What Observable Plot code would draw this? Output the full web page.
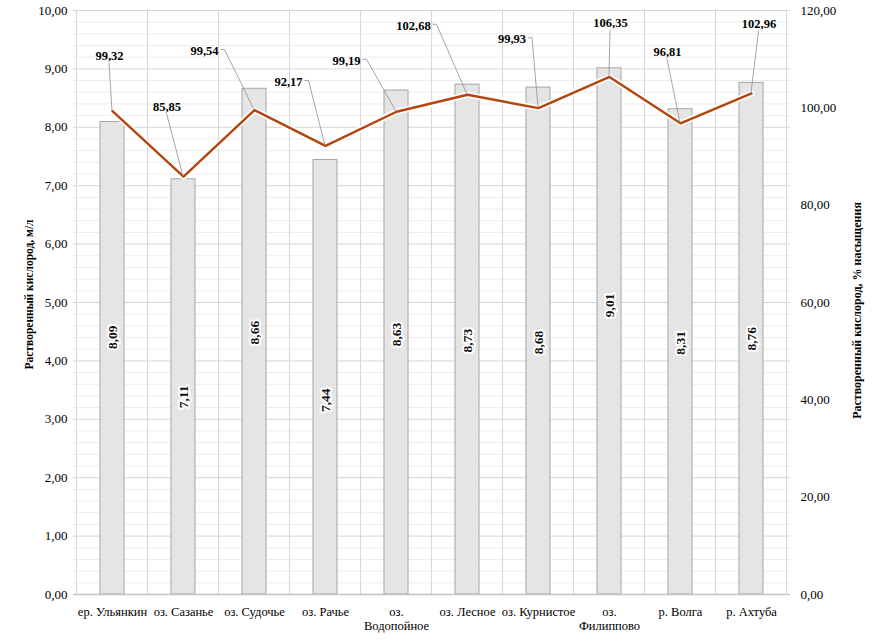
<!DOCTYPE html>
<html><head><meta charset="utf-8">
<script src="https://cdn.jsdelivr.net/npm/d3@7"></script>
<script src="https://cdn.jsdelivr.net/npm/@observablehq/plot@0.6"></script>
<style>
body{margin:0;background:#fff;}
#chart svg{display:block;}
#chart svg, #chart svg text, #chart svg tspan {font-family: "Liberation Serif", "Times New Roman", serif !important;}
</style>
</head><body><div id="chart"></div>
<script>
// ---- data ----
const categories = ["ер. Ульянкин","оз. Сазанье","оз. Судочье","оз. Рачье","оз. Водопойное","оз. Лесное","оз. Курнистое","оз. Филиппово","р. Волга","р. Ахтуба"];
const oxygenMgL = [8.09, 7.11, 8.66, 7.44, 8.63, 8.73, 8.68, 9.01, 8.31, 8.76];
const oxygenSat = [99.32, 85.85, 99.54, 92.17, 99.19, 102.68, 99.93, 106.35, 96.81, 102.96];
const leftTicks = [0,1,2,3,4,5,6,7,8,9,10];
const rightTicks = [0,20,40,60,80,100,120];
const leftTitle = "Растворенный кислород, м/л";
const rightTitle = "Растворенный кислород, % насыщения";
const wrappedCats = ["оз. Водопойное","оз. Филиппово"];

// ---- layout / style ----
const ratio = 120 / 10; // right axis max / left axis max
const fmt = v => (+v).toFixed(2).replace(".", ",");
const lineColor = "#b5450f";
// label offsets (px) of line labels relative to their points: [dx, dy, leaderSide]
const lineLabelLayout = [[-3,-55,"b"],[-16.5,-70,"b"],[-50,-59,"r"],[-37,-64,"r"],[-50,-51,"r"],[-54,-69,"r"],[-26.5,-69,"r"],[1,-54,"b"],[-13,-71,"b"],[7.5,-69,"b"]];
// vertical shift (px) of bar labels relative to bar middle
const barLabelShift = [-21, 10, -9, 23, -8, 1, 1.5, -26, -9, 0];

const rows = categories.map((c, i) => ({c, mg: oxygenMgL[i], sat: oxygenSat[i], satL: oxygenSat[i] / ratio, i}));
const minorTicks = d3.range(0, 50).map(k => k / 5).filter(v => v % 1 !== 0);

function bandCenter(x, c) { return x(c) + (x.bandwidth ? x.bandwidth() / 2 : 0); }

function bandGrid(index, scales, values, dims) {
  const x = scales.x;
  const step = x.step();
  const g = d3.create("svg:g");
  const top = dims.marginTop, bottom = dims.height - dims.marginBottom;
  const xs = categories.map(c => bandCenter(x, c) - step / 2);
  xs.push(bandCenter(x, categories[categories.length - 1]) + step / 2);
  xs.forEach(v => g.append("line").attr("x1", v).attr("x2", v).attr("y1", top).attr("y2", bottom)
    .attr("stroke", "#d6d6d6").attr("stroke-width", 1));
  return g.node();
}

function leaders(index, scales) {
  const x = scales.x, y = scales.y;
  const g = d3.create("svg:g").attr("fill", "none").attr("stroke", "#8f8f8f").attr("stroke-width", 0.8);
  rows.forEach((d, i) => {
    const [dx, dy, side] = lineLabelLayout[i];
    const px = bandCenter(x, d.c), py = y(d.satL);
    const label = fmt(d.sat);
    const hw = ((label.length - 1) * 6 + 3) / 2;
    let pts;
    if (side === "b") pts = [[px + dx, py + dy + 7], [px, py]];
    else pts = [[px + dx + hw + 3, py + dy - 1], [px + dx + hw + 7, py + dy - 1], [px, py]];
    g.append("path").attr("d", d3.line()(pts));
  });
  return g.node();
}

const font = "Liberation Serif";

const plot = Plot.plot({
  width: 877,
  height: 643,
  marginTop: 10,
  marginRight: 87,
  marginBottom: 49,
  marginLeft: 73,
  style: {fontFamily: font, fontSize: "12px", color: "#000", background: "#fff"},
  x: {domain: categories, paddingInner: 0.665, paddingOuter: 0.3325, label: null},
  y: {domain: [0, 10], label: null},
  marks: [
    Plot.ruleY(minorTicks, {stroke: "#ececec", strokeWidth: 1}),
    Plot.ruleY(leftTicks, {stroke: "#d6d6d6", strokeWidth: 1}),
    bandGrid,
    Plot.barY(rows, {x: "c", y: "mg", fill: "#e5e5e5", stroke: "#a6a6a6", strokeWidth: 1}),
    Plot.ruleY([0], {stroke: "#c4c4c4", strokeWidth: 1.5}),
    ...rows.map((d, i) => Plot.text([d], {
      x: "c", y: r => r.mg / 2, text: r => fmt(r.mg), rotate: -90, dy: barLabelShift[i],
      fontWeight: "bold", fontSize: 13.5, fill: "#111", stroke: "white", strokeWidth: 4, fontFamily: font
    })),
    Plot.line(rows, {x: "c", y: "satL", stroke: "white", strokeWidth: 6, strokeOpacity: 0.9}),
    Plot.line(rows, {x: "c", y: "satL", stroke: lineColor, strokeWidth: 2.4}),
    leaders,
    ...rows.map((d, i) => Plot.text([d], {
      x: "c", y: "satL", text: r => fmt(r.sat), dx: lineLabelLayout[i][0], dy: lineLabelLayout[i][1],
      fontWeight: "bold", fontSize: 12.5, fill: "#000", fontFamily: font
    })),
    Plot.axisY(leftTicks, {anchor: "left", tickSize: 0, tickPadding: 6, tickFormat: fmt, fontSize: 13, label: null}),
    Plot.axisY(rightTicks.map(v => v / ratio), {anchor: "right", tickSize: 0, tickPadding: 10, tickFormat: v => fmt(v * ratio), fontSize: 13, label: null}),
    Plot.axisX({anchor: "bottom", tickSize: 0, tickPadding: 11, fontSize: 12.5, lineHeight: 1.15, label: null,
      tickFormat: c => wrappedCats.includes(c) ? c.replace(" ", "\n") : c}),
    Plot.text([leftTitle], {frameAnchor: "left", dx: -44, dy: -8, rotate: -90, textAnchor: "middle", text: d => d, fontWeight: "bold", fontSize: 11.5, fontFamily: font}),
    Plot.text([rightTitle], {frameAnchor: "right", dx: 67, dy: 8, rotate: -90, textAnchor: "middle", text: d => d, fontWeight: "bold", fontSize: 12, fontFamily: font})
  ]
});
document.getElementById("chart").appendChild(plot);
</script>
</body></html>
